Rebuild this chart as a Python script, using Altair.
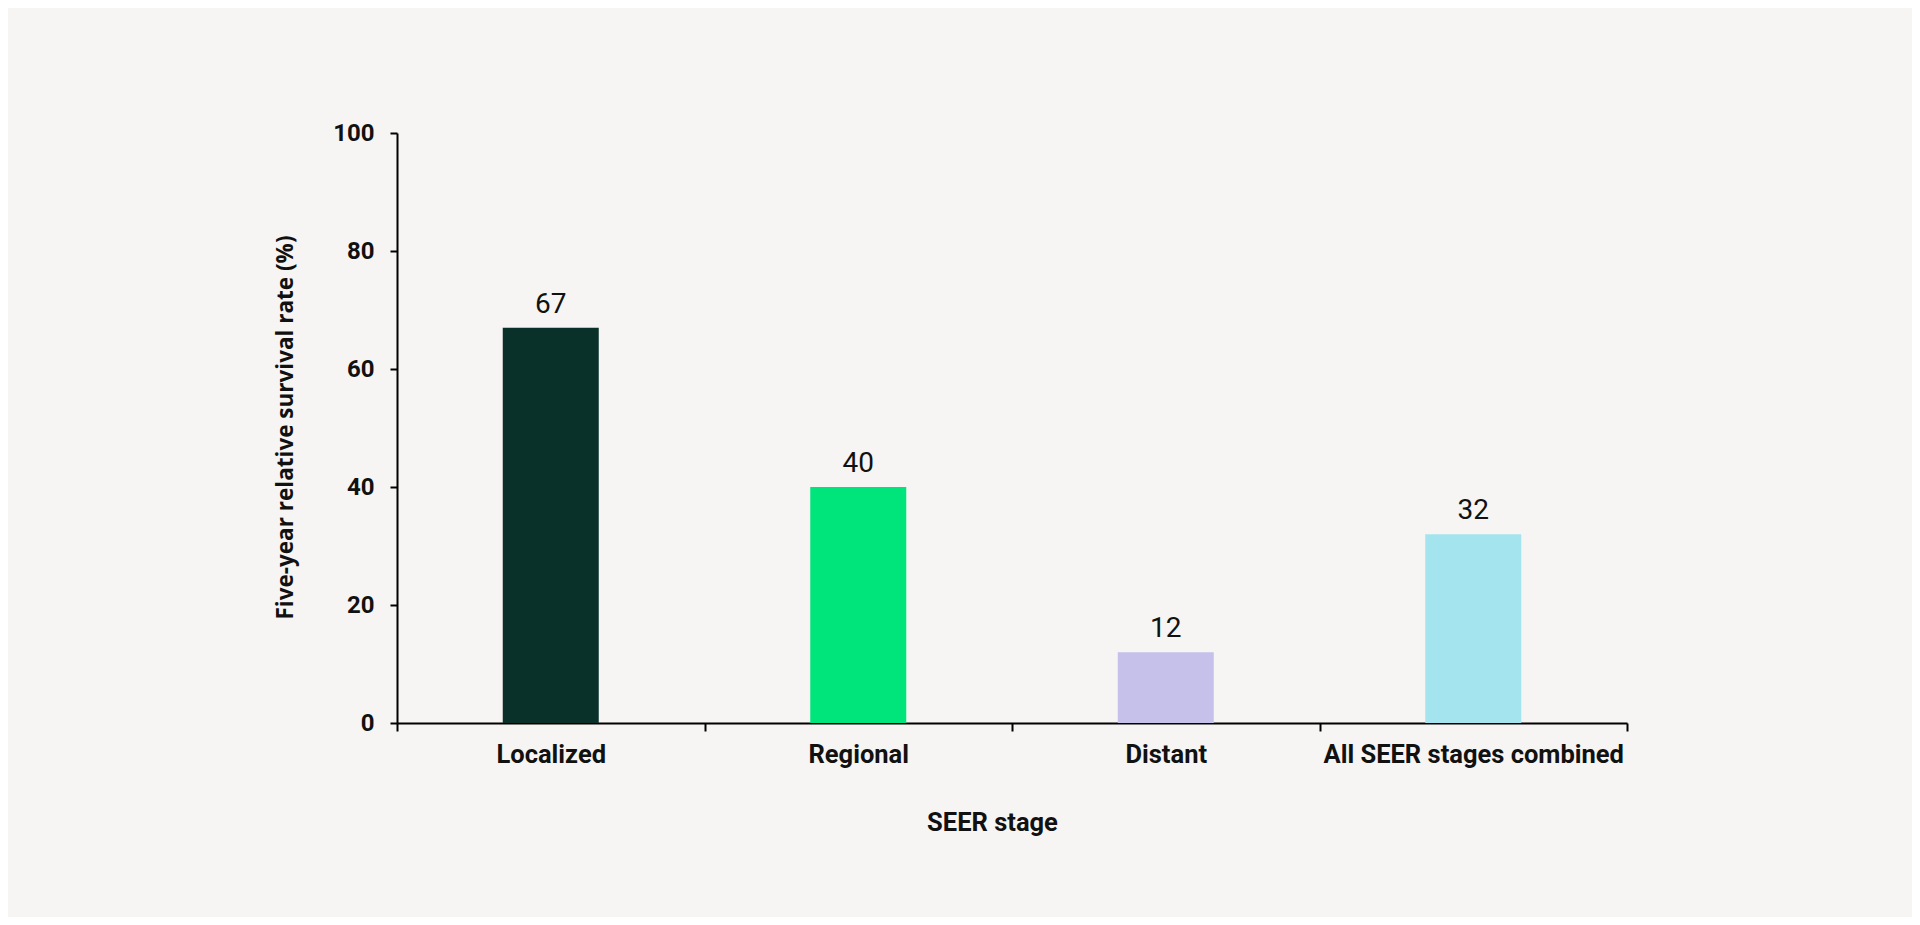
import altair as alt
import pandas as pd

stages = ["Localized", "Regional", "Distant", "All SEER stages combined"]
rates = [67, 40, 12, 32]
colors = ["#0A302A", "#00E57B", "#C5C1EB", "#A3E4EE"]

df = pd.DataFrame({"stage": stages, "rate": rates})

x_enc = alt.X(
    "stage:N",
    sort=stages,
    scale=alt.Scale(paddingInner=0, paddingOuter=0),
    axis=alt.Axis(
        title="SEER stage",
        tickBand="extent",
        labelAngle=0,
        labelFont="Roboto",
        labelFontSize=25.5,
        labelFontWeight="bold",
        labelColor="#111111",
        labelBaseline="alphabetic",
        labelPadding=31,
        labelLimit=0,
        labelOverlap=False,
        tickSize=8,
        tickWidth=2,
        tickColor="#000000",
        domainColor="#000000",
        domainWidth=2,
        titleFont="Roboto",
        titleFontSize=25.5,
        titleFontWeight="bold",
        titleColor="#111111",
        titleX=595,
        titleY=107,
        titleBaseline="alphabetic",
        titleAlign="center",
    ),
)

y_enc = alt.Y(
    "rate:Q",
    scale=alt.Scale(domain=[0, 100], nice=False),
    axis=alt.Axis(
        title="Five-year relative survival rate (%)",
        values=[0, 20, 40, 60, 80, 100],
        grid=False,
        labelFont="Roboto",
        labelFontSize=24,
        labelFontWeight="bold",
        labelColor="#111111",
        labelPadding=16,
        tickSize=7,
        tickWidth=2,
        tickColor="#000000",
        domainColor="#000000",
        domainWidth=2,
        titleFont="Open Sans",
        titleFontSize=22.5,
        titleFontWeight="bold",
        titleColor="#111111",
        titleAngle=270,
        titleX=-112,
        titleY=294,
        titleBaseline="middle",
        titleAlign="center",
    ),
)

bars = alt.Chart(df).mark_bar(size=96).encode(
    x=x_enc,
    y=y_enc,
    color=alt.Color("stage:N", sort=stages,
                    scale=alt.Scale(domain=stages, range=colors), legend=None),
)

labels = alt.Chart(df).mark_text(
    font="Roboto", fontSize=28, color="#111111", baseline="alphabetic", dy=-15
).encode(
    x=alt.X("stage:N", sort=stages),
    y=alt.Y("rate:Q"),
    text=alt.Text("rate:Q"),
)

chart = alt.layer(bars, labels).properties(
    width=1230,
    height=590,
    autosize=alt.AutoSizeParams(type="none"),
    padding={"left": 389, "top": 125, "right": 285, "bottom": 194},
    background="#F6F5F3",
).configure_view(stroke=None)

chart.save("out.html", embed_options={"renderer": "svg", "actions": False})
